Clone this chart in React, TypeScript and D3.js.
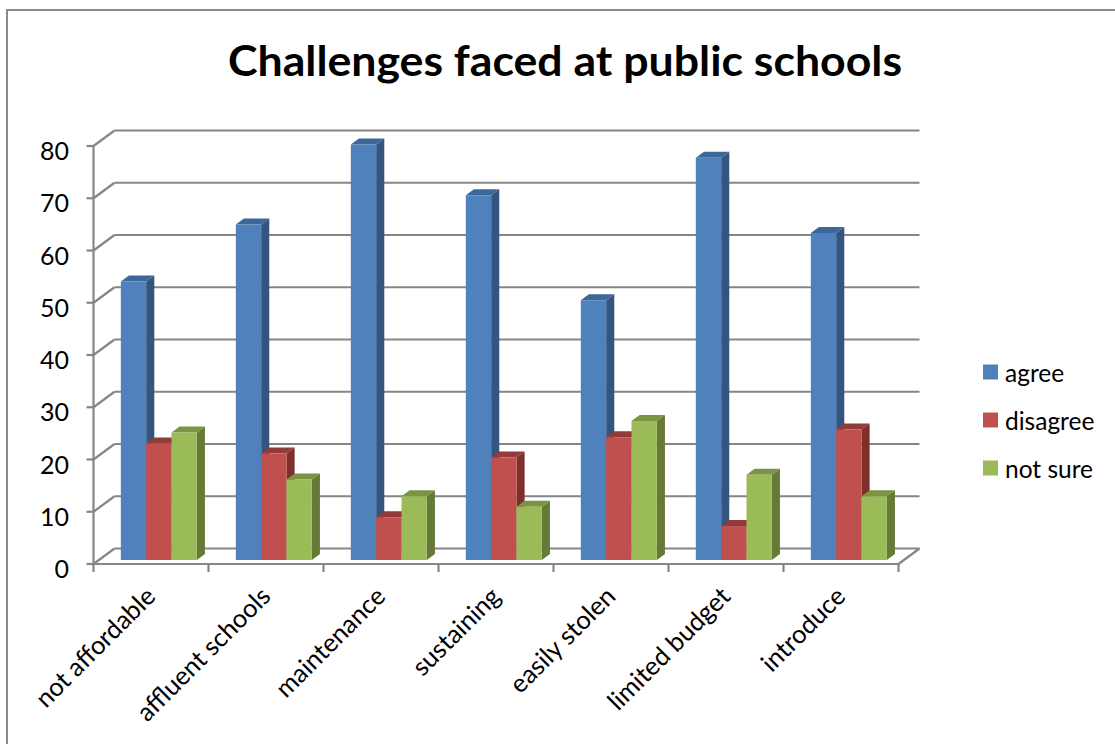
import React from "react";
import * as d3 from "d3";

const categories = ["not affordable", "affluent schools", "maintenance", "sustaining", "easily stolen", "limited budget", "introduce"];
const seriesNames = ["agree", "disagree", "not sure"];
const agree = [53.3, 64.2, 79.5, 69.8, 49.7, 77.0, 62.6];
const disagree = [22.3, 20.4, 8.2, 19.6, 23.5, 6.5, 25.0];
const notSure = [24.4, 15.4, 12.2, 10.2, 26.6, 16.3, 12.2];
const yTicks = [0, 10, 20, 30, 40, 50, 60, 70, 80];
const title = "Challenges faced at public schools";

const seriesValues = [agree, disagree, notSure];
const faceColors = [
  { front: "#4F81BD", side: "#34557F", top: "#3D6699" },
  { front: "#C0504D", side: "#7F2E2C", top: "#923B38" },
  { front: "#9BBB59", side: "#667A37", top: "#7B9443" },
];

const FONT = "Lato, 'Open Sans', sans-serif";
const W = 1115;
const H = 744;
const DX = 21; // depth offset x
const DY = 15.5; // depth offset y
const GRID = "#868686";

export default function App() {
  const x = d3.scaleBand<string>().domain(categories).range([93.5, 898.5]).paddingInner(0).paddingOuter(0);
  const y = d3.scaleLinear().domain([0, 80]).range([564, 146]);
  const sub = d3.scaleBand<string>().domain(seriesNames).range([0, 76]);
  const groupOffset = 21.9;
  const d0 = 4 / DY;
  const d1 = 10 / DY;
  const proj = (xf: number, v: number, d: number): [number, number] => [xf + d * DX, y(v) - d * DY];
  const pts = (arr: [number, number][]) => arr.map((p) => p.join(",")).join(" ");

  const x0 = x.range()[0];
  const x1 = x.range()[1];
  const boundaries = categories.map((c) => x(c) as number).concat([x1]);

  const bars: React.ReactNode[] = [];
  categories.forEach((c, ci) => {
    seriesNames.forEach((s, si) => {
      const v = seriesValues[si][ci];
      const xl = (x(c) as number) + groupOffset + (sub(s) as number);
      const xr = xl + sub.bandwidth();
      const col = faceColors[si];
      const fbl = proj(xl, 0, d0);
      const fbr = proj(xr, 0, d0);
      const ftl = proj(xl, v, d0);
      const ftr = proj(xr, v, d0);
      const bbr = proj(xr, 0, d1);
      const btl = proj(xl, v, d1);
      const btr = proj(xr, v, d1);
      bars.push(
        <g key={`${ci}-${si}`}>
          <polygon points={pts([fbr, ftr, btr, bbr])} fill={col.side} />
          <polygon points={pts([ftl, ftr, btr, btl])} fill={col.top} />
          <polygon points={pts([fbl, fbr, ftr, ftl])} fill={col.front} />
        </g>
      );
    });
  });

  return (
    <svg width={W} height={H} style={{ position: "absolute", left: 0, top: 0, background: "#fff" }} fontFamily={FONT}>
      <rect x={0} y={0} width={W} height={H} fill="#fff" />
      {/* outer frame */}
      <path d={`M7,${H} L7,10 L${W},10`} fill="none" stroke="#898989" strokeWidth={2} />
      <text x={565} y={76} textAnchor="middle" fontSize={42} fontWeight="bold" fill="#000" textLength={674} lengthAdjust="spacingAndGlyphs">
        {title}
      </text>

      {/* back wall gridlines and left wall diagonals */}
      {yTicks.map((t) => {
        const [bx0, by] = proj(x0, t, 1);
        const [bx1] = proj(x1, t, 1);
        const [fx, fy] = proj(x0, t, 0);
        return (
          <g key={`g${t}`} stroke={GRID} strokeWidth={2.2} fill="none">
            <line x1={bx0} y1={by} x2={bx1} y2={by} />
            <line x1={fx} y1={fy} x2={bx0} y2={by} />
            <line x1={fx - 7} y1={fy} x2={fx} y2={fy} />
          </g>
        );
      })}
      {/* vertical axis line */}
      <line x1={x0} y1={y(0)} x2={x0} y2={y(80)} stroke={GRID} strokeWidth={2.2} />
      {/* floor front edge and right edge */}
      <line x1={x0} y1={y(0)} x2={x1} y2={y(0)} stroke={GRID} strokeWidth={2.2} />
      <line x1={x1} y1={y(0)} x2={x1 + DX} y2={y(0) - DY} stroke={GRID} strokeWidth={2.2} />
      {boundaries.map((b, i) => (
        <line key={`xt${i}`} x1={b} y1={y(0)} x2={b} y2={y(0) + 8} stroke={GRID} strokeWidth={2.2} />
      ))}

      {bars}

      {/* y tick labels */}
      {yTicks.map((t) => (
        <text key={`yl${t}`} x={69} y={y(t) + 4} textAnchor="end" dominantBaseline="central" fontSize={25} fill="#000">
          {t}
        </text>
      ))}

      {/* category labels */}
      {categories.map((c) => {
        const cx = (x(c) as number) + x.bandwidth() / 2 + 6;
        const cy = 598;
        return (
          <text key={`cl${c}`} x={cx} y={cy} textAnchor="end" fontSize={25.5} fill="#000" transform={`rotate(-45 ${cx} ${cy})`}>
            {c}
          </text>
        );
      })}

      {/* legend */}
      {seriesNames.map((s, i) => {
        const ly = 372 + i * 48;
        return (
          <g key={`lg${s}`}>
            <rect x={983} y={ly - 7.5} width={15} height={15} fill={faceColors[i].front} />
            <text x={1005} y={ly} dominantBaseline="central" fontSize={24.5} fill="#000">
              {s}
            </text>
          </g>
        );
      })}
    </svg>
  );
}
